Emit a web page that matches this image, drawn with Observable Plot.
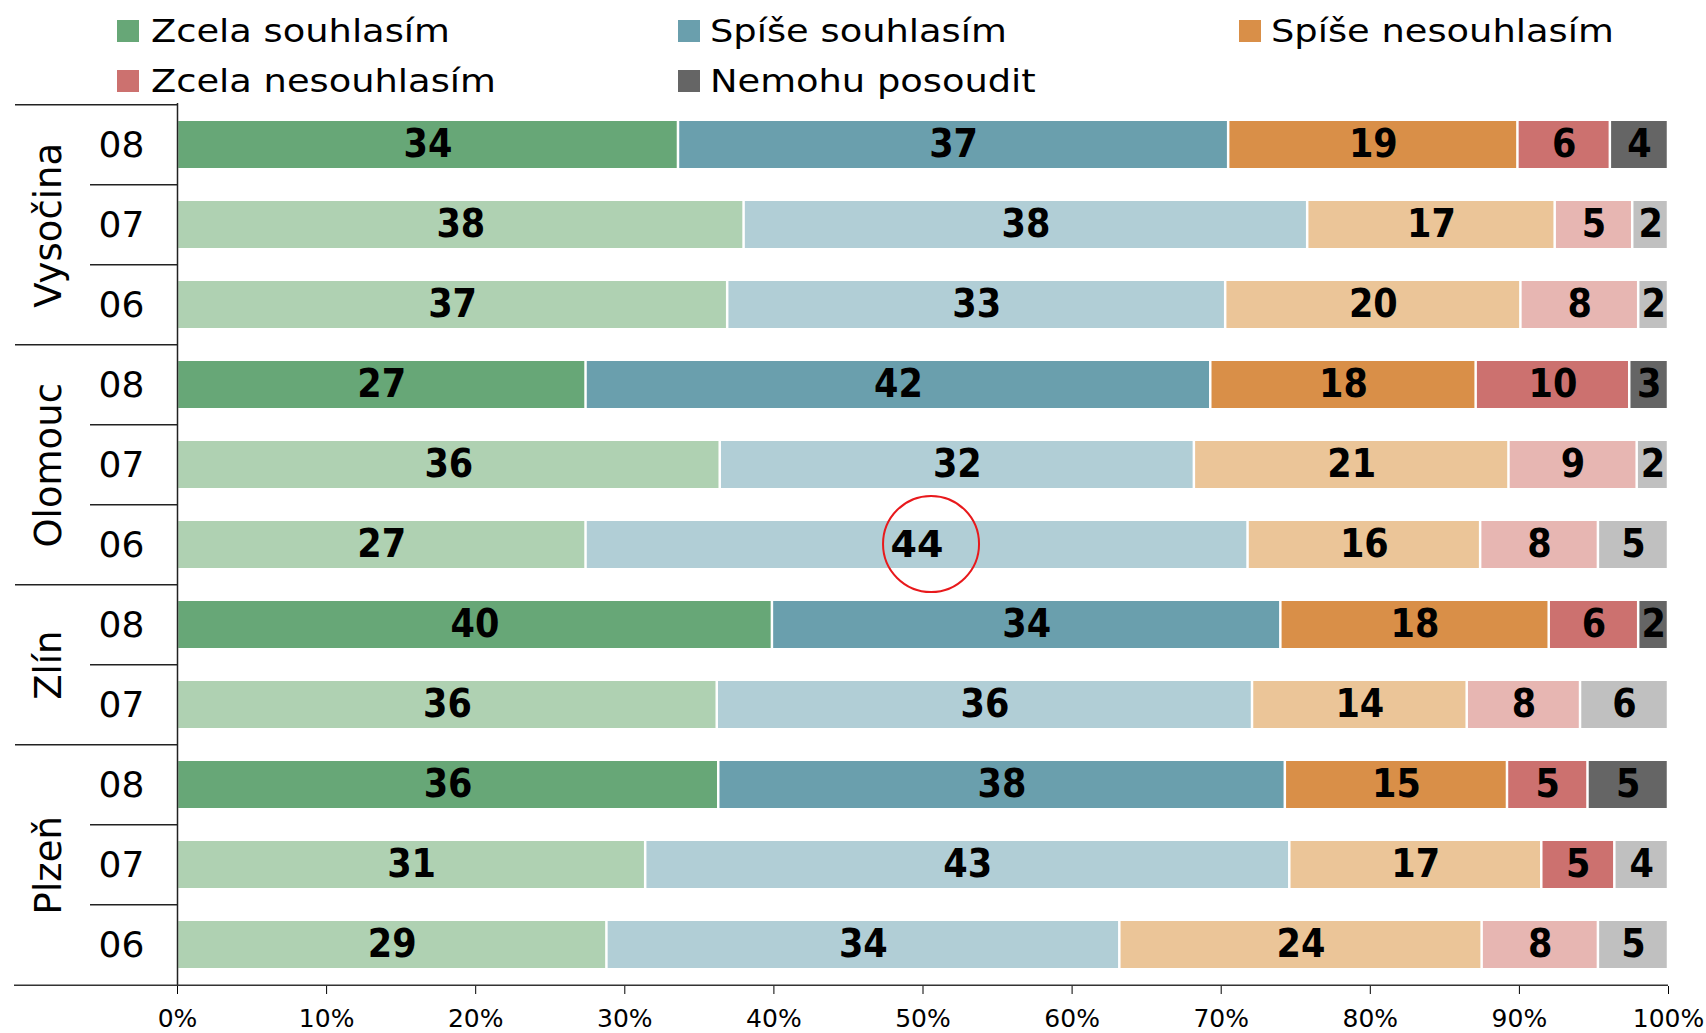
<!DOCTYPE html>
<html><head><meta charset="utf-8">
<script src="https://cdn.jsdelivr.net/npm/d3@7"></script>
<script src="https://cdn.jsdelivr.net/npm/@observablehq/plot@0.6"></script>
<style>
body{margin:0;background:#fff;}
#wrap{position:relative;width:1706px;height:1033px;overflow:hidden;}
#legend{position:relative;width:1706px;height:100px;font-family:"DejaVu Sans";}
.item{position:absolute;height:40px;}
.sw{position:absolute;left:0;top:10px;width:22px;height:22px;}
.lab{position:absolute;top:0;line-height:42px;font-size:32px;transform:scaleX(1.15);transform-origin:left center;white-space:nowrap;color:#000;}
svg{display:block;}
</style></head>
<body><div id="wrap"><div id="legend"></div><div id="chart"></div></div>
<script>
// ---- data ----
const categories = ["Zcela souhlasím", "Spíše souhlasím", "Spíše nesouhlasím", "Zcela nesouhlasím", "Nemohu posoudit"];
const regions = ["Vysočina", "Vysočina", "Vysočina", "Olomouc", "Olomouc", "Olomouc", "Zlín", "Zlín", "Plzeň", "Plzeň", "Plzeň"];
const years = ["08", "07", "06", "08", "07", "06", "08", "07", "08", "07", "06"];
const zcelaSouhlasim    = [33.6, 38.0, 36.9, 27.4, 36.4, 27.4, 39.9, 36.2, 36.3, 31.4, 28.8];
const spiseSouhlasim    = [36.9, 37.8, 33.4, 41.9, 31.8, 44.4, 34.1, 35.9, 38.0, 43.2, 34.4];
const spiseNesouhlasim  = [19.4, 16.6, 19.8, 17.8, 21.1, 15.6, 18.0, 14.4, 14.9, 16.9, 24.3];
const zcelaNesouhlasim  = [6.2, 5.2, 7.9, 10.3, 8.6, 7.9, 6.0, 7.6, 5.4, 4.9, 7.8];
const nemohuPosoudit    = [3.9, 2.4, 2.0, 2.6, 2.1, 4.7, 2.0, 5.9, 5.4, 3.6, 4.7];
const seriesValues = [zcelaSouhlasim, spiseSouhlasim, spiseNesouhlasim, zcelaNesouhlasim, nemohuPosoudit];
const darkColors  = ["#67a777", "#6a9fad", "#d98f48", "#cc716f", "#656565"];
const lightColors = ["#afd1b2", "#b1ced6", "#ebc598", "#e7b6b2", "#c0c0c0"];
const darkYear = "08";
const extraDark = [{row: 9, category: 3}];
const highlight = {row: 5, category: 1};
const xTicks = [0, 10, 20, 30, 40, 50, 60, 70, 80, 90, 100];
const xTickLabels = ["0%", "10%", "20%", "30%", "40%", "50%", "60%", "70%", "80%", "90%", "100%"];

// ---- layout ----
const W = 1706, H = 933, mt = 3, mb = 47, ml = 177, mr = 38;
const step = (H - mt - mb) / years.length;
const pxToX = p => (p - ml) / (W - ml - mr) * 100;

const rowKeys = years.map((y, i) => regions[i] + " " + y);
const cells = [];
rowKeys.forEach((row, i) => {
  let acc = 0;
  seriesValues.forEach((vals, c) => {
    const v = vals[i];
    const dark = years[i] === darkYear || extraDark.some(e => e.row === i && e.category === c);
    cells.push({
      row, i, c, category: categories[c], value: v,
      x1: acc, x2: acc + v, mid: acc + v / 2,
      label: String(Math.round(v)),
      color: dark ? darkColors[c] : lightColors[c],
      hl: i === highlight.row && c === highlight.category
    });
    acc += v;
  });
});
const rows = rowKeys.map((row, i) => ({row, i, year: years[i], region: regions[i], first: i === 0 || regions[i] !== regions[i - 1]}));
const groups = [];
rows.forEach(r => { if (r.first) groups.push({region: r.region, row: r.row, n: 0}); groups[groups.length - 1].n++; });

// ---- legend ----
const legendPos = [[117, 10], [678, 10], [1239, 10], [117, 60], [678, 60]];
const lg = document.getElementById("legend");
categories.forEach((c, k) => {
  const d = document.createElement("div");
  d.className = "item";
  d.style.left = legendPos[k][0] + "px";
  d.style.top = legendPos[k][1] + "px";
  d.innerHTML = `<div class="sw" style="background:${darkColors[k]}"></div><div class="lab" style="left:${k % 3 === 0 ? 34 : 32}px">${c}</div>`;
  lg.appendChild(d);
});

// ---- chart ----
const chart = Plot.plot({
  width: W, height: H,
  marginTop: mt, marginBottom: mb, marginLeft: ml, marginRight: mr,
  style: {fontFamily: "DejaVu Sans", fontSize: "25px", color: "#000", background: "#fff", overflow: "visible"},
  x: {domain: [0, 100], ticks: xTicks, tickFormat: d => xTickLabels[xTicks.indexOf(d)], tickSize: 8, tickPadding: 15, label: null},
  y: {domain: rowKeys, paddingInner: 0.41, paddingOuter: 0.205, axis: null},
  marks: [
    Plot.barX(cells, {x1: "x1", x2: "x2", y: "row", fill: "color", insetLeft: 1.25, insetRight: 1.25}),
    Plot.text(cells.filter(d => !d.hl), {x: "mid", y: "row", text: "label", fontFamily: "DejaVu Sans Condensed", fontWeight: "bold", fontSize: 39, fill: "#000"}),
    Plot.text(cells.filter(d => d.hl), {x: "mid", y: "row", text: "label", fontFamily: "DejaVu Sans", fontWeight: "bold", fontSize: 38, fill: "#000"}),
    Plot.dot(cells.filter(d => d.hl), {x: "mid", y: "row", r: 48, dx: 14, dy: -1, stroke: "#e8191c", strokeWidth: 2, fill: "none"}),
    Plot.ruleX([0], {stroke: "#222", strokeWidth: 1.5}),
    Plot.ruleY(rows.filter(r => r.first), {y: "row", dy: -step / 2, x1: pxToX(15), x2: 0, stroke: "#222", strokeWidth: 1.5}),
    Plot.ruleY(rows.filter(r => !r.first), {y: "row", dy: -step / 2, x1: pxToX(90), x2: 0, stroke: "#222", strokeWidth: 1.5}),
    Plot.ruleY(rows.slice(-1), {y: "row", dy: step / 2, x1: pxToX(14), x2: 100, stroke: "#333", strokeWidth: 1.5}),
    Plot.text(rows, {x: 0, y: "row", text: "year", dx: -56, fontFamily: "DejaVu Sans", fontSize: 36, fill: "#000"}),
    ...groups.map(g => Plot.text([g], {x: 0, y: "row", text: "region", dx: -128, dy: (g.n - 1) * step / 2, rotate: -90, fontFamily: "DejaVu Sans", fontSize: 37, fill: "#000"}))
  ]
});
document.getElementById("chart").appendChild(chart);
</script>
</body></html>
